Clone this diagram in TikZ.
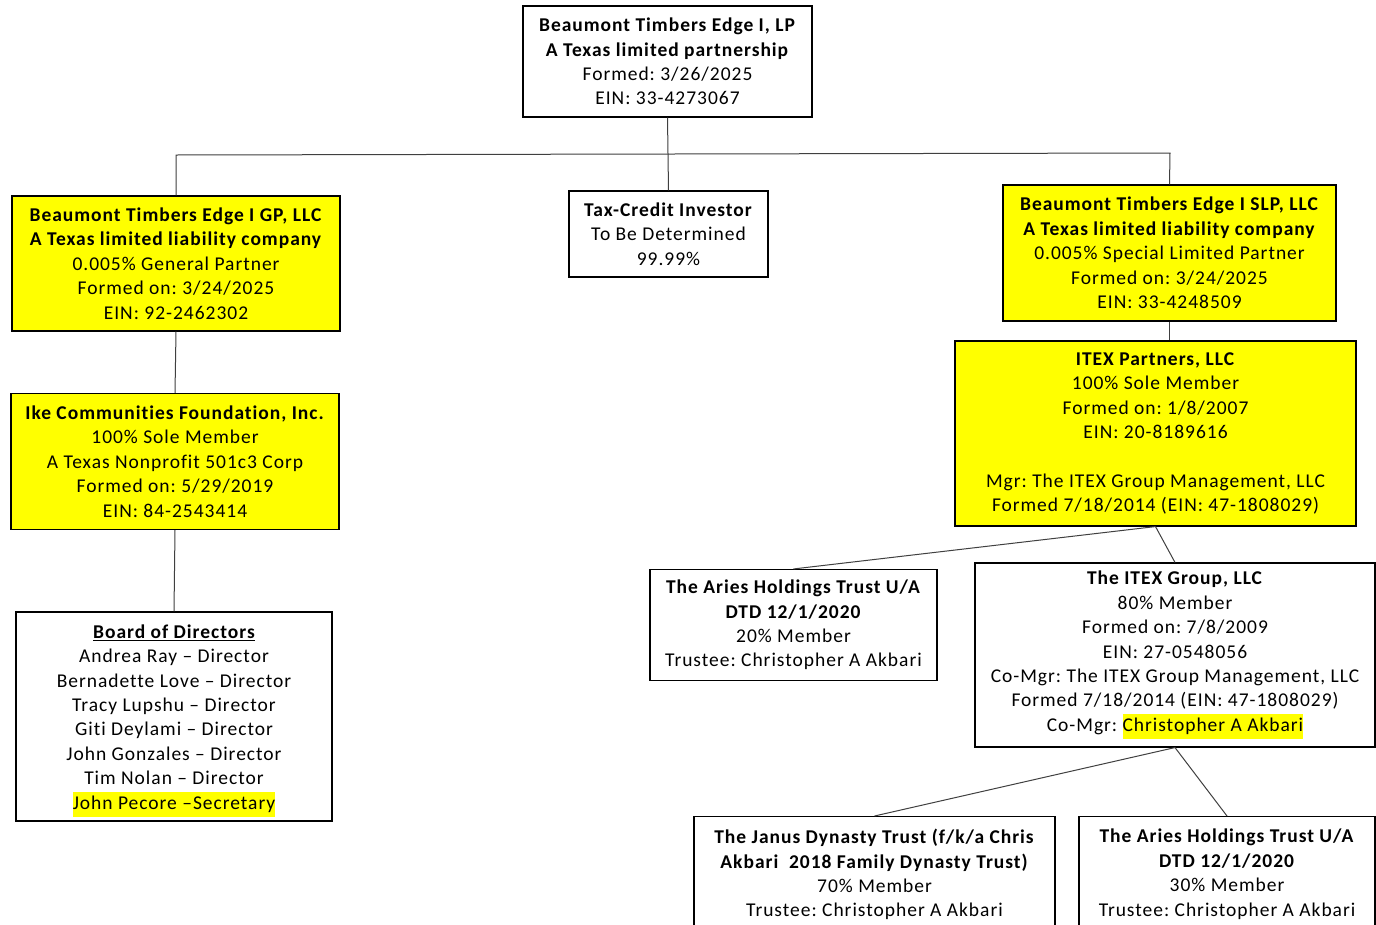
\documentclass[tikz,border=0pt]{standalone}
\usepackage{fontspec}
\setmainfont{Carlito}[LetterSpace=5, Ligatures={NoCommon}]
\definecolor{hly}{HTML}{FFFF00}
\definecolor{wire}{HTML}{404040}
\newcommand{\hlt}[1]{{\setlength{\fboxsep}{0pt}\colorbox{hly}{\strut #1}}}
\begin{document}
\frenchspacing
\begin{tikzpicture}[x=1pt,y=-1pt,
  box/.style={draw=black, line width=1.1pt, inner sep=0pt, align=center,
    font=\fontsize{19.5}{24.4}\selectfont},
  ybox/.style={box, fill=hly},
  wbox/.style={box, fill=white},
  txt/.style={inner sep=0pt, align=center, font=\fontsize{19.5}{24.4}\selectfont},
  wire/.style={draw=wire, line width=1pt}]
\useasboundingbox (0,0) rectangle (1376,924);
\fill[white] (0,0) rectangle (1376,924);
\coordinate (bl) at (176,155);
\coordinate (br) at (1170,153);
% boxes
\node[wbox, minimum width=289, minimum height=111] (top) at (667.5,61.5)
 {\textbf{Beaumont Timbers Edge I, LP}\\\textbf{A Texas limited partnership}\\Formed: 3/26/2025\\EIN: 33-4273067};
\node[ybox, minimum width=328, minimum height=135] (gp) at (176,263.5)
 {\textbf{Beaumont Timbers Edge I GP, LLC}\\\textbf{A Texas limited liability company}\\0.005\% General Partner\\Formed on: 3/24/2025\\EIN: 92-2462302};
\node[wbox, minimum width=199, minimum height=86] (tax) at (668.5,234)
 {\textbf{Tax-Credit Investor}\\To Be Determined\\99.99\%};
\node[ybox, minimum width=333, minimum height=136] (slp) at (1169.5,253)
 {\textbf{Beaumont Timbers Edge I SLP, LLC}\\\textbf{A Texas limited liability company}\\0.005\% Special Limited Partner\\Formed on: 3/24/2025\\EIN: 33-4248509};
\node[ybox, minimum width=401, minimum height=185] (itexp) at (1155.5,433.5)
 {\textbf{ITEX Partners, LLC}\\100\% Sole Member\\Formed on: 1/8/2007\\EIN: 20-8189616\\[24.4pt]Mgr: The ITEX Group Management, LLC\\Formed 7/18/2014 (EIN: 47-1808029)};
\node[ybox, minimum width=328, minimum height=136] (ike) at (175,461.5)
 {\textbf{Ike Communities Foundation, Inc.}\\100\% Sole Member\\A Texas Nonprofit 501c3 Corp\\Formed on: 5/29/2019\\EIN: 84-2543414};
\node[wbox, minimum width=316, minimum height=209] (board) at (174,716.5) {};
\node[txt, anchor=north] (boardt) at (174,624.5)
 {\textbf{\underline{Board of Directors}}\\Andrea Ray -- Director\\Bernadette Love -- Director\\Tracy Lupshu -- Director\\Giti Deylami -- Director\\John Gonzales -- Director\\Tim Nolan -- Director\\\hlt{John Pecore --Secretary}};
\node[wbox, minimum width=287, minimum height=111] (aries1) at (793.5,625)
 {\textbf{The Aries Holdings Trust U/A}\\\textbf{DTD 12/1/2020}\\20\% Member\\Trustee: Christopher A Akbari};
\node[wbox, minimum width=400, minimum height=184] (itexg) at (1175,655)
 {\textbf{The ITEX Group, LLC}\\80\% Member\\Formed on: 7/8/2009\\EIN: 27-0548056\\Co-Mgr: The ITEX Group Management, LLC\\Formed 7/18/2014 (EIN: 47-1808029)\\Co-Mgr: \hlt{Christopher A Akbari}};
\node[wbox, minimum width=361, minimum height=140, anchor=north] (janus) at (874.5,816) {};
\node[txt, anchor=north] (janust) at (874.5,829)
 {\textbf{The Janus Dynasty Trust (f/k/a Chris}\\\textbf{Akbari\ \ 2018 Family Dynasty Trust)}\\70\% Member\\Trustee: Christopher A Akbari};
\node[wbox, minimum width=296, minimum height=140, anchor=north] (aries2) at (1227,816) {};
\node[txt, anchor=north] (aries2t) at (1227,829)
 {\textbf{The Aries Holdings Trust U/A}\\\textbf{DTD 12/1/2020}\\30\% Member\\Trustee: Christopher A Akbari};
% connectors
\draw[wire] (top.south) -- (tax.north);
\draw[wire] (gp.north) -- (bl) -- (br) -- (slp.north);
\draw[wire] (gp.south) -- (ike.north);
\draw[wire] (ike.south) -- (board.north);
\draw[wire] (slp.south) -- (slp.south |- itexp.north);
\draw[wire] (itexp.south) -- (aries1.north);
\draw[wire] (itexp.south) -- (itexg.north);
\draw[wire] (itexg.south) -- (janus.north);
\draw[wire] (itexg.south) -- (aries2.north);
\end{tikzpicture}
\end{document}
